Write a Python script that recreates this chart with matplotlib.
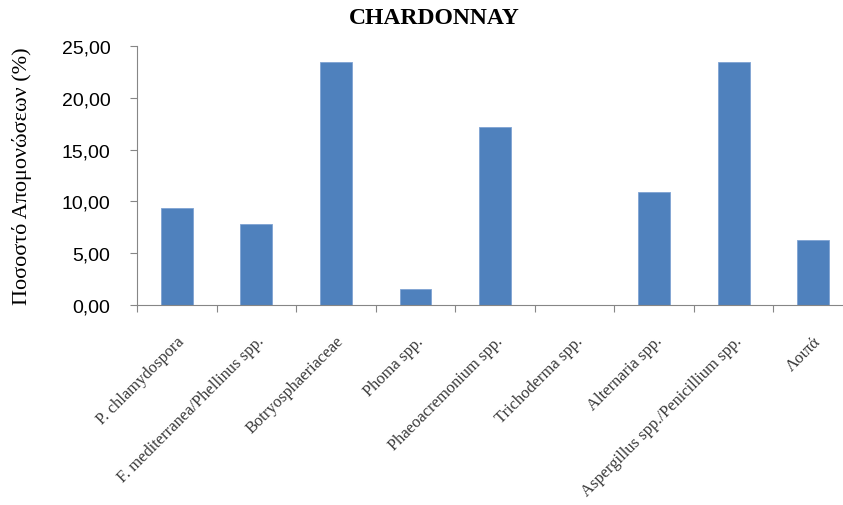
import numpy as np
import matplotlib.pyplot as plt
from matplotlib.ticker import FuncFormatter
from matplotlib.transforms import ScaledTranslation

categories = ["P. chlamydospora", "F. mediterranea/Phellinus spp.", "Botryosphaeriaceae",
              "Phoma spp.", "Phaeoacremonium spp.", "Trichoderma spp.", "Alternaria spp.",
              "Aspergillus spp./Penicillium spp.", "Λοιπά"]
values = [9.38, 7.81, 23.44, 1.56, 17.19, 0.0, 10.94, 23.44, 6.25]
yticks = [0, 5, 10, 15, 20, 25]

fig = plt.figure(figsize=(8.43, 5.06), dpi=100)
ax = fig.add_axes([0.1625, 0.3953, 0.8494, 0.5118])

x = np.arange(len(categories))
ax.bar(x, values, width=0.4, color="#4F81BD", edgecolor="#7FA3D3", linewidth=0.6)

ax.set_xlim(-0.5, len(categories) - 0.5)
ax.set_ylim(0, 25)
ax.set_yticks(yticks)
ax.yaxis.set_major_formatter(FuncFormatter(lambda v, p: f"{v:.2f}".replace(".", ",")))
ax.tick_params(axis="y", length=5, width=0.8, color="#868686", labelsize=14, pad=14)
for lbl in ax.get_yticklabels():
    lbl.set_family("Liberation Sans")

ax.set_xticks(x)
ax.set_xticks(np.arange(-0.5, len(categories), 1), minor=True)
ax.tick_params(axis="x", which="major", length=0, pad=2)
ax.tick_params(axis="x", which="minor", length=5, width=0.8, color="#868686")
ax.set_xticklabels(categories, rotation=45, ha="right", va="center",
                   rotation_mode="anchor", family="Liberation Serif", fontsize=11.9,
                   color="#383838")
off = ScaledTranslation(4 / 72, -22 / 72, fig.dpi_scale_trans)
for lbl in ax.get_xticklabels():
    lbl.set_transform(lbl.get_transform() + off)

for s in ["top", "right"]:
    ax.spines[s].set_visible(False)
for s in ["left", "bottom"]:
    ax.spines[s].set_color("#868686")
    ax.spines[s].set_linewidth(0.8)

ax.set_ylabel("Ποσοστό Απομονώσεων (%)", family="Liberation Serif", fontsize=16)
ax.yaxis.set_label_coords(-0.146, 0.5)
fig.text(0.515, 0.963, "CHARDONNAY", ha="center", va="center",
         family="Liberation Serif", fontweight="bold", fontsize=17)

fig.savefig("out.png", dpi=100)
